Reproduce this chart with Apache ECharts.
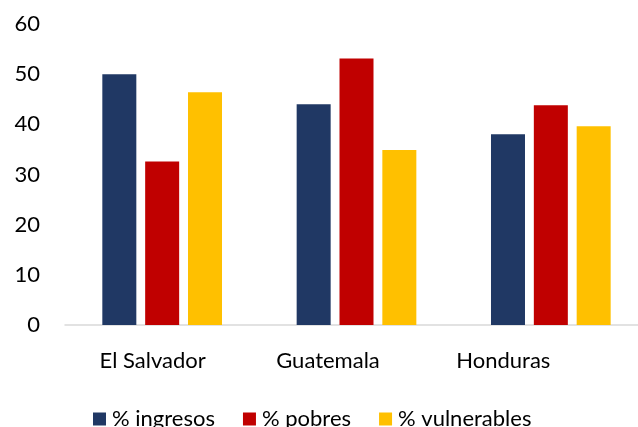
<!DOCTYPE html>
<html>
<head>
<meta charset="utf-8">
<script src="https://cdn.jsdelivr.net/npm/echarts@6/dist/echarts.min.js"></script>
<style>
  html, body { margin: 0; padding: 0; background: #ffffff; }
  #chart { width: 638px; height: 427px; }
</style>
</head>
<body>
<div id="chart"></div>
<script>
// Country groups along the x axis
const countries = ['El Salvador', 'Guatemala', 'Honduras'];

// Series values (percent)
const ingresos = [50.0, 44.0, 38.0];
const pobres = [32.6, 53.1, 43.8];
const vulnerables = [46.4, 34.9, 39.6];

// Value axis ticks
const yTicks = [0, 10, 20, 30, 40, 50, 60];

const seriesNames = ['% ingresos', '% pobres', '% vulnerables'];
const seriesColors = ['#203864', '#C00000', '#FFC000'];
const seriesData = [ingresos, pobres, vulnerables];

const fontFamily = 'Lato, "Liberation Sans", sans-serif';

const chart = echarts.init(document.getElementById('chart'), null, { renderer: 'canvas' });

chart.setOption({
  animation: false,
  backgroundColor: '#ffffff',
  textStyle: { fontFamily: fontFamily },
  grid: [
    // plot area holding the bars
    { left: 65, top: 24, width: 583, height: 301, containLabel: false, outerBoundsMode: 'none' },
    // narrower band used only to place the country names
    { left: 65, top: 24, width: 526, height: 301, containLabel: false, outerBoundsMode: 'none' }
  ],
  legend: {
    data: seriesNames,
    top: 408,
    left: 93,
    padding: 0,
    itemWidth: 13,
    itemHeight: 13,
    itemGap: 28,
    icon: 'rect',
    textStyle: { fontFamily: fontFamily, fontSize: 22, color: '#000000', padding: [0, 0, 0, 1] }
  },
  xAxis: [
    {
      type: 'category',
      gridIndex: 0,
      data: countries,
      axisLine: { show: true, lineStyle: { color: '#d9d9d9', width: 1.5 } },
      axisTick: { show: false },
      axisLabel: { show: false },
      splitLine: { show: false }
    },
    {
      type: 'category',
      gridIndex: 1,
      data: countries,
      axisLine: { show: false },
      axisTick: { show: false },
      axisLabel: { color: '#000000', fontSize: 22, fontFamily: fontFamily, margin: 25 },
      splitLine: { show: false }
    }
  ],
  yAxis: [
    {
      type: 'value',
      gridIndex: 0,
      min: yTicks[0],
      max: yTicks[yTicks.length - 1],
      interval: yTicks[1] - yTicks[0],
      axisLine: { show: false },
      axisTick: { show: false },
      splitLine: { show: false },
      axisLabel: { color: '#000000', fontSize: 22, fontFamily: fontFamily, margin: 25 }
    },
    {
      type: 'value',
      gridIndex: 1,
      show: false,
      min: yTicks[0],
      max: yTicks[yTicks.length - 1]
    }
  ],
  series: seriesNames.map((name, i) => ({
    name: name,
    type: 'bar',
    xAxisIndex: 0,
    yAxisIndex: 0,
    data: seriesData[i],
    barWidth: 34,
    barGap: '26%',
    itemStyle: { color: seriesColors[i] }
  }))
});
</script>
</body>
</html>
